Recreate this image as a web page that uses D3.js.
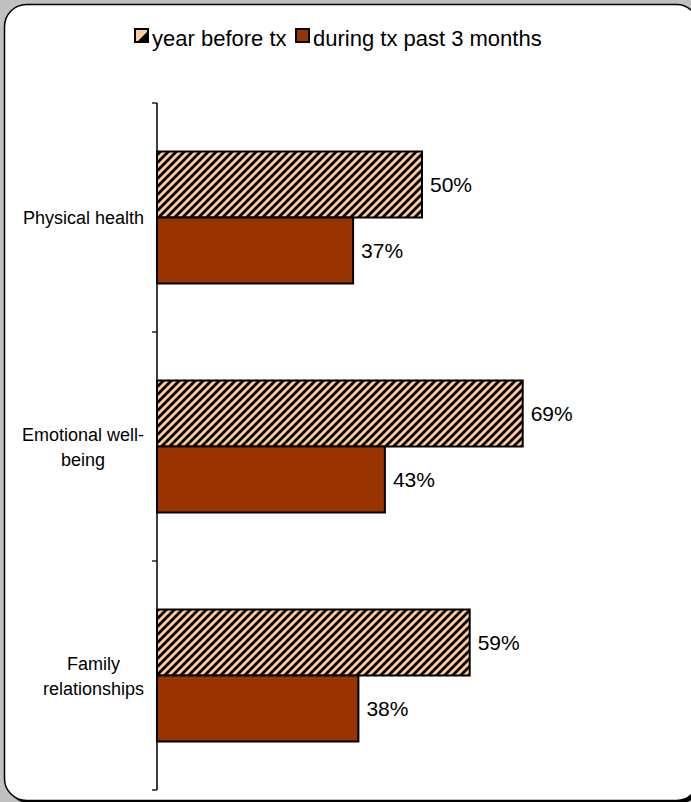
<!DOCTYPE html>
<html>
<head>
<meta charset="utf-8">
<script src="https://cdn.jsdelivr.net/npm/d3@7"></script>
<style>
  html, body { margin: 0; padding: 0; background: #c0c0c0; overflow: hidden; }
  svg { display: block; }
  text { font-family: "Liberation Sans", Arial, sans-serif; fill: #000; }
</style>
</head>
<body>
<svg id="chart" width="691" height="802"></svg>
<script>
// Share of respondents reporting problems, by area
const categories = ["Physical health", "Emotional well-being", "Family relationships"];
const categoryLines = [["Physical health"], ["Emotional well-", "being"], ["Family", "relationships"]];
const seriesNames = ["year before tx", "during tx past 3 months"];
const yearBefore = [0.50, 0.69, 0.59];
const duringTx = [0.37, 0.43, 0.38];

const seriesValues = [yearBefore, duringTx];

const svg = d3.select("#chart");

const defs = svg.append("defs");

// Hatched fill for the first series
const hatch = defs.append("pattern")
  .attr("id", "hatch")
  .attr("patternUnits", "userSpaceOnUse")
  .attr("width", 8).attr("height", 8);
hatch.append("rect").attr("width", 8).attr("height", 8).attr("fill", "#ffcc99");
hatch.append("path")
  .attr("d", "M-2,2 L2,-2 M0,8 L8,0 M6,10 L10,6")
  .attr("stroke", "#000").attr("stroke-width", 2.8);

// Drop shadow shows only around the lower corner of the frame
defs.append("clipPath").attr("id", "shadowClip")
  .append("rect").attr("x", 0).attr("y", 700).attr("width", 691).attr("height", 102);
svg.append("rect")
  .attr("clip-path", "url(#shadowClip)")
  .attr("x", 7.5).attr("y", 7.5).attr("width", 694).attr("height", 796)
  .attr("rx", 22).attr("fill", "#000");
svg.append("rect")
  .attr("x", 4.5).attr("y", 4.5).attr("width", 694).attr("height", 796)
  .attr("rx", 22).attr("fill", "#fff").attr("stroke", "#000").attr("stroke-width", 1.5);

const fills = ["url(#hatch)", "#993300"];

// Scales
const y = d3.scaleBand().domain(categories).range([103, 790]).padding(0);
const ySub = d3.scaleBand().domain(seriesNames).range([0, y.bandwidth()])
  .paddingInner(0).paddingOuter(0.735);
const x = d3.scaleLinear().domain([0, 1]).range([157, 687]);

// Category axis: vertical line with outward ticks at band boundaries
const gAxis = svg.append("g").attr("transform", `translate(${x(0)},0)`);
const tickYs = [...categories.map(c => y(c)), y.range()[1]];
gAxis.selectAll("line.tk").data(tickYs).join("line")
  .attr("class", "tk")
  .attr("x1", -5).attr("x2", 0)
  .attr("y1", d => d).attr("y2", d => d)
  .attr("stroke", "#000").attr("stroke-width", 1.3);
gAxis.append("line")
  .attr("x1", 0).attr("x2", 0)
  .attr("y1", y.range()[0]).attr("y2", y.range()[1])
  .attr("stroke", "#000").attr("stroke-width", 1.5);

// Bars
const rows = [];
categories.forEach((c, i) => {
  seriesNames.forEach((s, j) => rows.push({ c, s, j, v: seriesValues[j][i] }));
});

svg.append("g").selectAll("rect").data(rows).join("rect")
  .attr("x", x(0))
  .attr("y", d => y(d.c) + ySub(d.s))
  .attr("width", d => x(d.v) - x(0))
  .attr("height", ySub.bandwidth())
  .attr("fill", d => fills[d.j])
  .attr("stroke", "#000").attr("stroke-width", 2);

// Value labels
svg.append("g").selectAll("text").data(rows).join("text")
  .attr("x", d => x(d.v) + 8)
  .attr("y", d => y(d.c) + ySub(d.s) + ySub.bandwidth() / 2 + 7.5)
  .attr("font-size", 21)
  .text(d => Math.round(d.v * 100) + "%");

// Category labels, centred as a block whose right edge sits near the axis
const gLab = svg.append("g");
categories.forEach((c, i) => {
  const lines = categoryLines[i];
  const lh = 25;
  const cy = y(c) + y.bandwidth() / 2;
  const t = gLab.append("text").attr("font-size", 18).attr("text-anchor", "middle");
  const spans = lines.map((ln, k) => t.append("tspan")
    .attr("y", cy + 6.5 - (lines.length - 1) * lh / 2 + k * lh)
    .text(ln));
  let maxW = 0;
  spans.forEach(sp => { maxW = Math.max(maxW, sp.node().getComputedTextLength()); });
  const cx = 144 - maxW / 2;
  spans.forEach(sp => sp.attr("x", cx));
});

// Legend
const legend = svg.append("g");
const legendItems = [
  { name: seriesNames[0], x: 135 },
  { name: seriesNames[1], x: 296 }
];
legendItems.forEach((it, j) => {
  const g = legend.append("g").attr("transform", `translate(${it.x},29)`);
  if (j === 0) {
    g.append("rect").attr("width", 13).attr("height", 13).attr("fill", "#ffcc99");
    g.append("path").attr("d", "M13,2 L13,13 L2,13 Z").attr("fill", "#000");
    g.append("rect").attr("width", 13).attr("height", 13).attr("fill", "none")
      .attr("stroke", "#000").attr("stroke-width", 2);
  } else {
    g.append("rect").attr("width", 13).attr("height", 13).attr("fill", fills[1])
      .attr("stroke", "#000").attr("stroke-width", 2);
  }
  g.append("text").attr("x", 17).attr("y", 17).attr("font-size", 22).text(it.name);
});
</script>
</body>
</html>
